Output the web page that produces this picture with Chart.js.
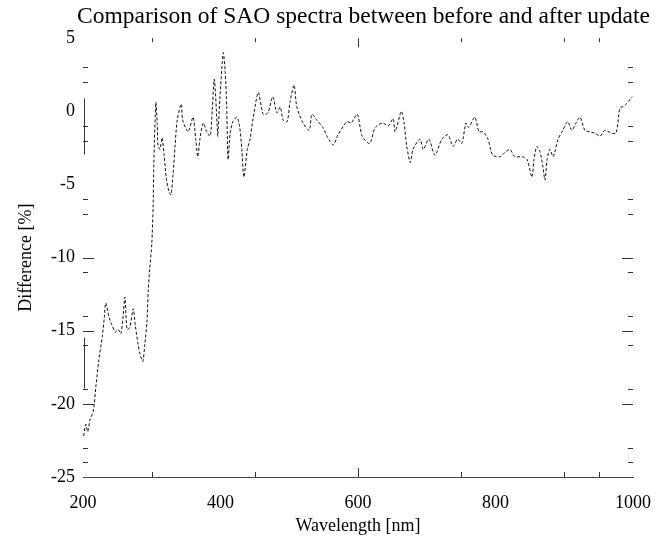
<!DOCTYPE html>
<html>
<head>
<meta charset="utf-8">
<script src="https://cdn.jsdelivr.net/npm/chart.js@4/dist/chart.umd.min.js"></script>
<style>
    html, body { margin: 0; padding: 0; background: #fff; }
    #wrap { width: 666px; height: 540px; }
</style>
</head>
<body>
<div id="wrap"><canvas id="chart" width="666" height="540"></canvas></div>
<script>
// Dati
const wavelength = [
    201, 204, 207, 210, 215, 219, 223, 228, 231, 233, 238, 242, 247, 251, 255, 258, 261, 264, 268, 273,
    276, 280, 283, 287, 290, 293, 295, 297, 300, 302, 303, 306, 308, 309, 312, 315, 318, 321, 325, 328,
    331, 334, 337, 343, 345, 353, 360, 364, 367, 370, 375, 380, 385, 388, 391, 395, 396, 399, 404, 407,
    409, 411, 414, 418, 424, 428, 431, 434, 439, 443, 447, 455, 462, 469, 476, 482, 487, 491, 497, 501,
    507, 511, 520, 529, 533, 540, 549, 556, 564, 571, 584, 590, 599, 606, 617, 625, 636, 644, 651, 654,
    663, 667, 671, 676, 680, 690, 695, 703, 712, 722, 731, 738, 745, 751, 757, 761, 770, 776, 782, 789,
    796, 807, 814, 821, 828, 839, 846, 853, 856, 860, 865, 869, 872, 875, 879, 884, 891, 898, 905, 911,
    917, 923, 930, 937, 945, 952, 959, 969, 975, 978, 981, 988, 999
];
const difference = [
    -22.2, -21.4, -21.9, -21.1, -20.5, -18.7, -17.0, -15.4, -14.1, -13.1, -14.1, -14.6, -15.1, -14.9, -15.2, -14.2, -12.7, -14.9, -14.8, -13.5,
    -14.6, -15.9, -16.6, -17.1, -15.9, -14.4, -12.2, -10.8, -9.1, -6.5, -3.6, 0.6, -0.9, -2.3, -2.6, -1.8, -3.0, -4.5, -5.5, -5.7,
    -4.3, -2.3, -0.6, 0.5, -0.6, -1.4, -0.4, -1.9, -3.1, -1.9, -0.8, -1.4, -1.7, 0.1, 2.2, -0.8, -1.7, 0.8, 4.0, 2.6,
    0.3, -3.3, -1.5, -0.7, -0.4, -1.1, -2.6, -4.5, -2.6, -1.9, -0.6, 1.3, -0.2, -0.1, 1.0, -0.1, 0.3, -0.6, -0.7, 0.6,
    1.8, 0.3, -0.8, -1.3, -0.2, -0.6, -1.1, -1.8, -2.3, -1.6, -0.7, -0.8, -0.2, -1.7, -2.2, -1.1, -0.8, -1.0, -0.5, -1.4,
    0.0, -0.8, -2.4, -3.5, -2.6, -1.9, -2.6, -1.9, -3.0, -1.9, -1.6, -2.4, -1.9, -2.2, -0.8, -1.1, -0.4, -1.4, -1.4, -1.9,
    -3.0, -3.1, -2.8, -2.6, -3.1, -3.1, -3.3, -4.5, -3.3, -2.4, -2.8, -3.8, -4.7, -3.3, -2.6, -3.1, -1.9, -1.3, -0.7, -1.3,
    -0.8, -0.4, -1.3, -1.4, -1.5, -1.7, -1.3, -1.5, -1.5, -0.8, 0.2, 0.4, 1.0
];

// Tacche degli assi
const xLabelTicks = [200, 400, 600, 800, 1000];
const xMinorTicks = [300, 450, 750, 900, 950];
const xMajorTicks = [600];
const yLabelTicks = [5, 0, -5, -10, -15, -20, -25];
const yMinorTicks = [3, 2, -1, -2, -6, -7, -11, -14, -16, -19, -23, -24];
const yMajorTicks = [-10, -15, -20];
const yAxisPieces = [[0.9, -2.95], [-15.4, -18.9]];

const serif = "'Liberation Serif', 'DejaVu Serif', serif";

// Plugin per le tacche interne
const innerTicks = {
    id: 'innerTicks',
    afterDraw(chart) {
        const { ctx, chartArea: a, scales: { x, y } } = chart;
        const px = v => Math.round(x.getPixelForValue(v)) + 0.5;
        const py = v => Math.round(y.getPixelForValue(v)) + 0.5;
        ctx.save();
        ctx.strokeStyle = '#333';
        ctx.lineWidth = 1;
        ctx.beginPath();
        yMinorTicks.forEach(v => {
            ctx.moveTo(a.left, py(v)); ctx.lineTo(a.left + 5, py(v));
            ctx.moveTo(a.right, py(v)); ctx.lineTo(a.right - 5, py(v));
        });
        yMajorTicks.forEach(v => {
            ctx.moveTo(a.left, py(v)); ctx.lineTo(a.left + 11, py(v));
            ctx.moveTo(a.right, py(v)); ctx.lineTo(a.right - 11, py(v));
        });
        xMinorTicks.forEach(v => {
            ctx.moveTo(px(v), a.bottom); ctx.lineTo(px(v), a.bottom - 5);
            ctx.moveTo(px(v), a.top); ctx.lineTo(px(v), a.top + 4);
        });
        xMajorTicks.forEach(v => {
            ctx.moveTo(px(v), a.bottom); ctx.lineTo(px(v), a.bottom - 9);
            ctx.moveTo(px(v), a.top); ctx.lineTo(px(v), a.top + 9);
        });
        yAxisPieces.forEach(([v1, v2]) => {
            ctx.moveTo(a.left + 1.5, py(v1)); ctx.lineTo(a.left + 1.5, py(v2));
        });
        ctx.stroke();
        ctx.restore();
    }
};

const points = wavelength.map((w, i) => ({ x: w, y: difference[i] }));

new Chart(document.getElementById('chart'), {
    type: 'line',
    data: {
        datasets: [{
            data: points,
            borderColor: '#111',
            borderWidth: 1,
            borderDash: [3, 2],
            pointRadius: 0,
            tension: 0.25,
            fill: false
        }]
    },
    options: {
        responsive: false,
        animation: false,
        layout: { padding: { left: 15, right: 16, top: 0, bottom: 0 } },
        plugins: {
            legend: { display: false },
            tooltip: { enabled: false },
            title: {
                display: true,
                text: 'Comparison of SAO spectra between before and after update',
                align: 'end',
                color: '#000',
                font: { family: serif, size: 23.5, weight: 'normal' },
                padding: { top: 3, bottom: 7 }
            }
        },
        scales: {
            x: {
                type: 'linear',
                min: 200,
                max: 1000,
                afterBuildTicks: s => { s.ticks = xLabelTicks.map(v => ({ value: v })); },
                afterFit: s => { s.height = 63; },
                grid: { display: false, drawTicks: false },
                border: { display: true, color: '#444', width: 1 },
                ticks: {
                    color: '#000', padding: 15, maxRotation: 0, autoSkip: false,
                    font: { family: serif, size: 18 },
                    callback: v => String(v)
                },
                title: {
                    display: true,
                    text: 'Wavelength [nm]',
                    color: '#000',
                    font: { family: serif, size: 18 },
                    padding: { top: 0, bottom: 3 }
                }
            },
            y: {
                min: -25,
                max: 5,
                afterBuildTicks: s => { s.ticks = yLabelTicks.map(v => ({ value: v })); },
                afterFit: s => { s.width = 68; },
                grid: { display: false, drawTicks: false },
                border: { display: false },
                ticks: { color: '#000', padding: 8, autoSkip: false, font: { family: serif, size: 18 } },
                title: {
                    display: true,
                    text: 'Difference [%]',
                    color: '#000',
                    font: { family: serif, size: 18 },
                    padding: { top: 0, bottom: 0 }
                }
            },
            y2: {
                position: 'right',
                display: true,
                afterFit: s => { s.width = 17; },
                grid: { display: false, drawTicks: false },
                border: { display: false },
                ticks: { display: false }
            }
        }
    },
    plugins: [innerTicks]
});
</script>
</body>
</html>
